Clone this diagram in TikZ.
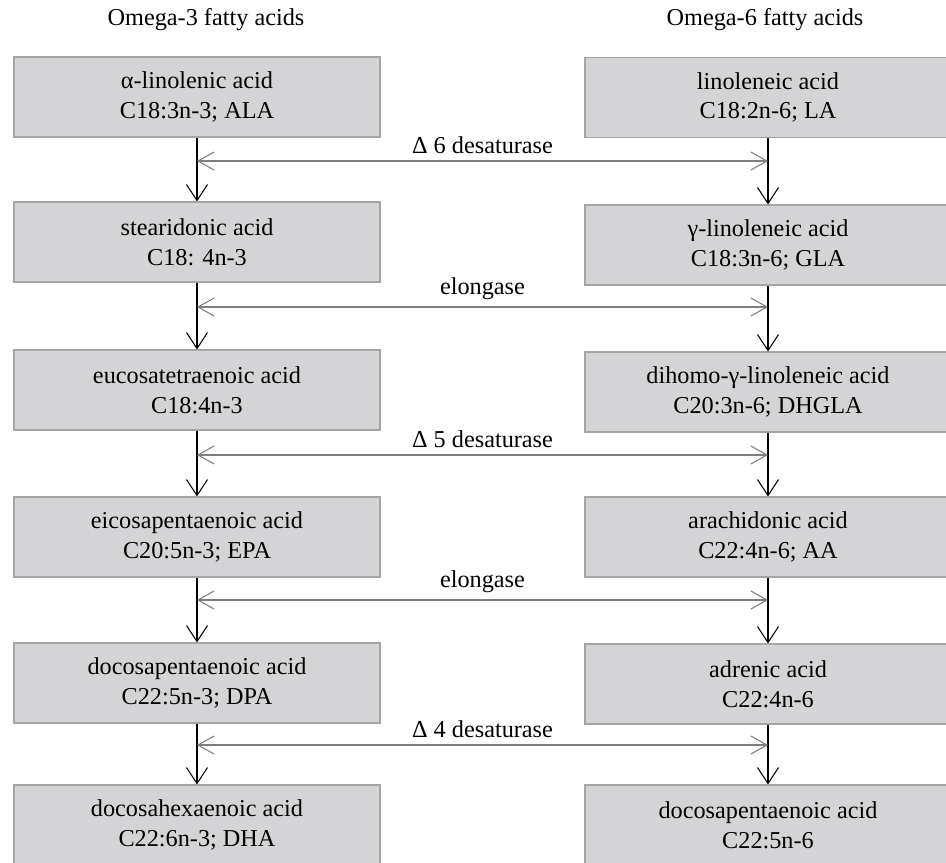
\documentclass[tikz,border=0pt]{standalone}
\usepackage{fontspec}
\setmainfont{Liberation Serif}
\usepackage{tikz}
\usetikzlibrary{arrows.meta,positioning}

\definecolor{boxgray}{RGB}{212,212,214}
\definecolor{edgegray}{RGB}{165,165,165}
\definecolor{enzgray}{RGB}{125,125,125}

\begin{document}
\begin{tikzpicture}[
    font=\fontsize{13.8pt}{17pt}\selectfont,
    acid/.style={rectangle, draw=edgegray, fill=boxgray, minimum width=7.32cm, minimum height=1.6cm, align=center, line width=0.6pt},
    conv/.style={-{Straight Barb[length=3.2mm, width=4.2mm, line width=0.6pt]}, line width=0.8pt, black},
    enz/.style={{Straight Barb[length=3.2mm, width=3.6mm, line width=0.6pt]}-{Straight Barb[length=3.2mm, width=3.6mm, line width=0.6pt]}, line width=0.8pt, enzgray},
    head/.style={font=\fontsize{13.8pt}{17pt}\selectfont}
]
\useasboundingbox (0,0) rectangle (18.92,-17.24);

% Column headings
\node[head] (h3) at (4.12, -0.40) {Omega-3 fatty acids};
\node[head] (h6) at (15.30, -0.40) {Omega-6 fatty acids};

% Omega-3 column
\node[acid] (ala) at (3.94, -1.94) {α-linolenic acid\\ C18:3n-3; ALA};
\node[acid] (sda) at (3.94, -4.84) {stearidonic acid\\ C18: 4n-3};
\node[acid] (eta) at (3.94, -7.80) {eucosatetraenoic acid\\ C18:4n-3};
\node[acid] (epa) at (3.94, -10.74) {eicosapentaenoic acid\\ C20:5n-3; EPA};
\node[acid] (dpa) at (3.94, -13.66) {docosapentaenoic acid\\ C22:5n-3; DPA};
\node[acid] (dha) at (3.94, -16.50) {docosahexaenoic acid\\ C22:6n-3; DHA};

% Omega-6 column
\node[acid] (la) at (15.36, -1.95) {linoleneic acid\\ C18:2n-6; LA};
\node[acid] (gla) at (15.36, -4.90) {γ-linoleneic acid\\ C18:3n-6; GLA};
\node[acid] (dgla) at (15.36, -7.84) {dihomo-γ-linoleneic acid\\ C20:3n-6; DHGLA};
\node[acid] (aa) at (15.36, -10.74) {arachidonic acid\\ C22:4n-6; AA};
\node[acid] (adr) at (15.36, -13.68) {adrenic acid\\ C22:4n-6};
\node[acid] (dpa6) at (15.36, -16.50) {docosapentaenoic acid\\ C22:5n-6};

% Conversion arrows
\draw[conv] (ala.south) -- (sda.north);
\draw[conv] (sda.south) -- (eta.north);
\draw[conv] (eta.south) -- (epa.north);
\draw[conv] (epa.south) -- (dpa.north);
\draw[conv] (dpa.south) -- (dha.north);

\draw[conv] (la.south) -- (gla.north);
\draw[conv] (gla.south) -- (dgla.north);
\draw[conv] (dgla.south) -- (aa.north);
\draw[conv] (aa.south) -- (adr.north);
\draw[conv] (adr.south) -- (dpa6.north);

% Enzymes
\coordinate (e1l) at (3.94, -3.22);   \coordinate (e1r) at (15.36, -3.22);
\coordinate (e2l) at (3.94, -6.14);   \coordinate (e2r) at (15.36, -6.14);
\coordinate (e3l) at (3.94, -9.10);   \coordinate (e3r) at (15.36, -9.10);
\coordinate (e4l) at (3.94, -12.00);  \coordinate (e4r) at (15.36, -12.00);
\coordinate (e5l) at (3.94, -14.90);  \coordinate (e5r) at (15.36, -14.90);

\draw[enz] (e1l) -- node[above=0.5pt, black] {Δ 6 desaturase} (e1r);
\draw[enz] (e2l) -- node[above=0.5pt, black] {elongase} (e2r);
\draw[enz] (e3l) -- node[above=0.5pt, black] {Δ 5 desaturase} (e3r);
\draw[enz] (e4l) -- node[above=0.5pt, black] {elongase} (e4r);
\draw[enz] (e5l) -- node[above=0.5pt, black] {Δ 4 desaturase} (e5r);

\end{tikzpicture}
\end{document}
